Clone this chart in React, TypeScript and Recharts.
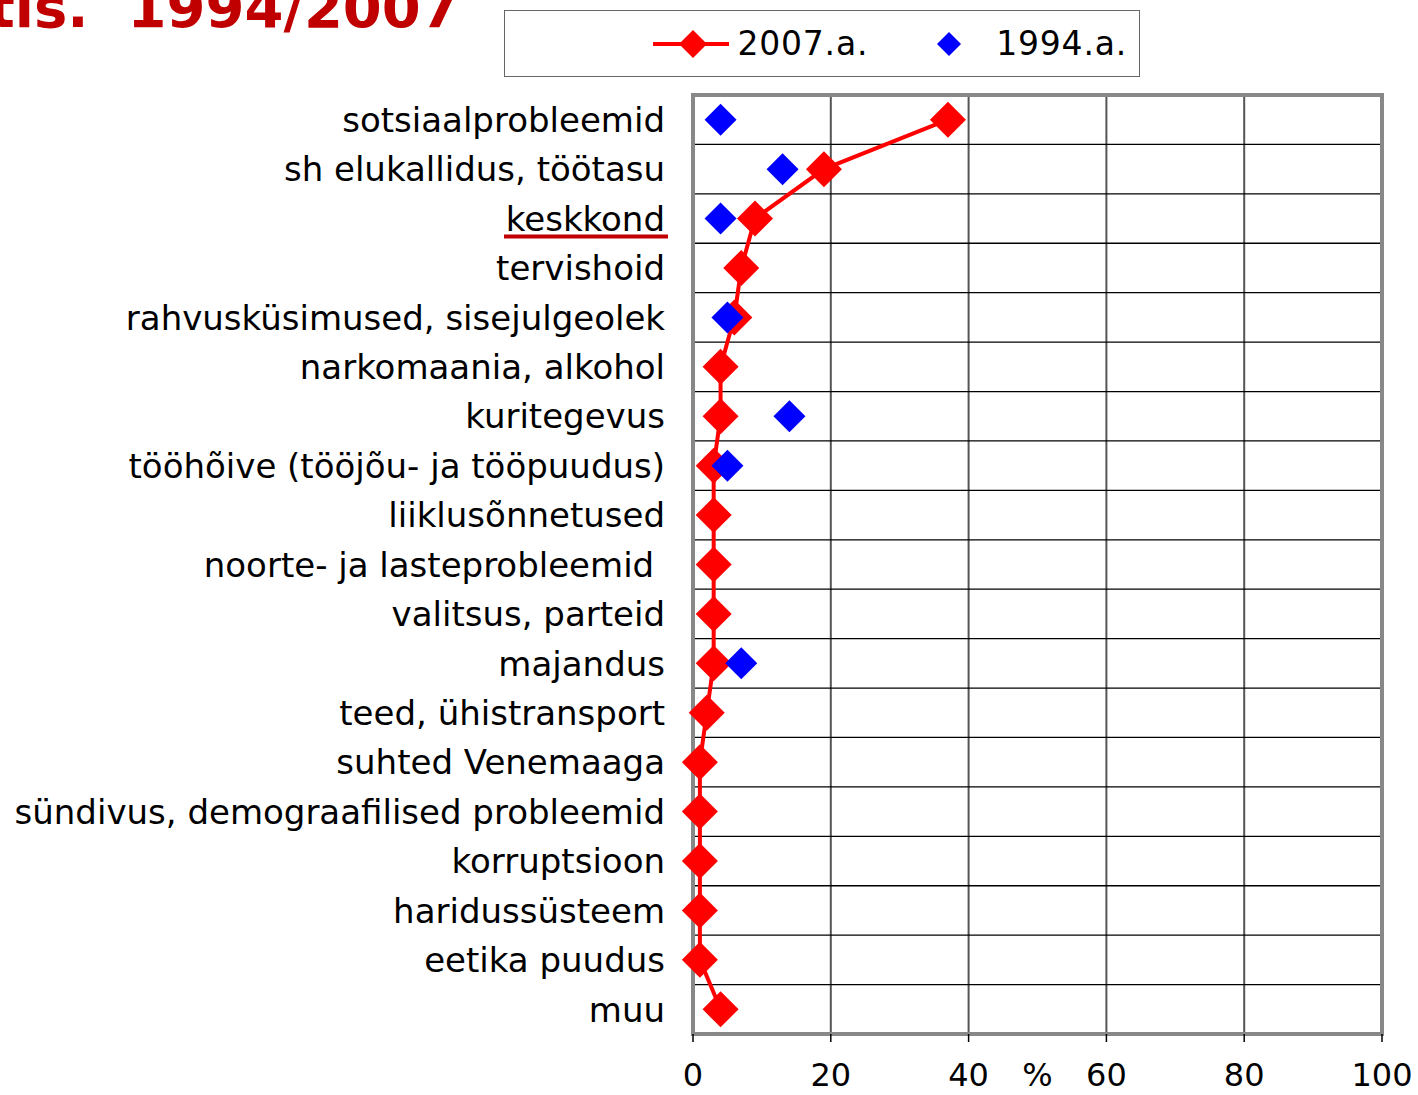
import React from "react";
import {
  ComposedChart, Line, XAxis, YAxis, CartesianGrid, ReferenceArea,
} from "recharts";

const categories = [
  "sotsiaalprobleemid",
  "sh elukallidus, töötasu",
  "keskkond",
  "tervishoid",
  "rahvusküsimused, sisejulgeolek",
  "narkomaania, alkohol",
  "kuritegevus",
  "tööhõive (tööjõu- ja tööpuudus)",
  "liiklusõnnetused",
  "noorte- ja lasteprobleemid\u00A0",
  "valitsus, parteid",
  "majandus",
  "teed, ühistransport",
  "suhted Venemaaga",
  "sündivus, demograafilised probleemid",
  "korruptsioon",
  "haridussüsteem",
  "eetika puudus",
  "muu",
];

const values2007 = [37, 19, 9, 7, 6, 4, 4, 3, 3, 3, 3, 3, 2, 1, 1, 1, 1, 1, 4];
const values1994: (number | null)[] = [
  4, 13, 4, null, 5, null, 14, 5, null, null, null, 7, null, null, null, null, null, null, null,
];

const xTicks = [0, 20, 40, 60, 80, 100];

const data = categories.map((name, i) => ({
  name,
  y2007: values2007[i],
  y1994: values1994[i],
}));

const FONT = "'DejaVu Sans', Verdana, sans-serif";
const RED = "#ff0000";
const BLUE = "#0000ff";

function Diamond({ cx, cy, r, fill, value }: any) {
  if (cx == null || cy == null || value == null) return null;
  return (
    <polygon
      points={`${cx},${cy - r} ${cx + r},${cy} ${cx},${cy + r} ${cx - r},${cy}`}
      fill={fill}
    />
  );
}

function CategoryTick({ x, y, payload }: any) {
  const label = payload.value;
  return (
    <g>
      <text
        x={x}
        y={y}
        dy="0.36em"
        textAnchor="end"
        fontFamily={FONT}
        fontSize={34}
        fill="#000"
      >
        {label}
      </text>
      {label === "keskkond" && (
        <line x1={x - 161} x2={x + 3} y1={y + 18} y2={y + 18} stroke="#c00000" strokeWidth={4} />
      )}
    </g>
  );
}

export default function App() {
  return (
    <div style={{ position: "absolute", left: 0, top: 0, width: 1418, height: 1095, background: "#fff", overflow: "hidden" }}>
      <div
        style={{
          position: "absolute", left: -12, top: -20, fontFamily: FONT, fontWeight: "bold",
          fontSize: 56, lineHeight: 1, color: "#c00000", whiteSpace: "pre",
        }}
      >
        {"tis.  1994/2007"}
      </div>

      <div
        style={{
          position: "absolute", left: 504, top: 10, width: 636, height: 67,
          border: "1px solid #666", display: "flex", alignItems: "center",
          justifyContent: "flex-end", paddingRight: 12, boxSizing: "border-box",
          fontFamily: FONT, fontSize: 33, color: "#000",
        }}
      >
        <svg width={76} height={30} style={{ marginRight: 8 }}>
          <line x1={0} x2={76} y1={15} y2={15} stroke={RED} strokeWidth={4} />
          <polygon points="40,1 54,15 40,29 26,15" fill={RED} />
        </svg>
        <span style={{ letterSpacing: 0.8 }}>2007.a.</span>
        <svg width={26} height={26} style={{ marginLeft: 68, marginRight: 34 }}>
          <polygon points="13,1 25,13 13,25 1,13" fill={BLUE} />
        </svg>
        <span style={{ letterSpacing: 0.8 }}>1994.a.</span>
      </div>

      <ComposedChart
        width={1418}
        height={1095}
        data={data}
        layout="vertical"
        margin={{ top: 95, right: 36, bottom: 0, left: 0 }}
        style={{ position: "absolute", left: 0, top: 0 }}
      >
        <CartesianGrid
          horizontal={false}
          stroke="#555"
          strokeWidth={2}
        />
        <CartesianGrid
          vertical={false}
          stroke="#000"
          strokeWidth={1.3}
          horizontalCoordinatesGenerator={({ offset }: any) =>
            categories.slice(1).map((_, i) => offset.top + ((i + 1) * offset.height) / categories.length)
          }
        />
        <XAxis
          type="number"
          domain={[0, 100]}
          ticks={xTicks}
          interval={0}
          axisLine={false}
          tickSize={8}
          tickMargin={21}
          tickLine={{ stroke: "#000", strokeWidth: 1.5 }}
          height={61}
          tick={{ fontSize: 32, fontFamily: FONT, fill: "#000" }}
          label={({ viewBox }: any) => (
            <text
              x={viewBox.x + viewBox.width / 2}
              y={viewBox.y + 52}
              textAnchor="middle"
              fontSize={32}
              fontFamily={FONT}
              fill="#000"
            >
              %
            </text>
          )}
        />
        <YAxis
          type="category"
          dataKey="name"
          scale="band"
          width={693}
          interval={0}
          axisLine={false}
          tickLine={false}
          tickSize={0}
          tickMargin={28}
          tick={<CategoryTick />}
        />
        <ReferenceArea
          x1={0}
          x2={100}
          fill="none"
          stroke="#888"
          strokeWidth={4}
          ifOverflow="visible"
        />
        <Line
          dataKey="y2007"
          stroke={RED}
          strokeWidth={4}
          isAnimationActive={false}
          dot={(p: any) => <Diamond key={`r${p.index}`} {...p} r={18} fill={RED} />}
        />
        <Line
          dataKey="y1994"
          stroke="none"
          isAnimationActive={false}
          dot={(p: any) => <Diamond key={`b${p.index}`} {...p} r={16} fill={BLUE} />}
        />
      </ComposedChart>
    </div>
  );
}
